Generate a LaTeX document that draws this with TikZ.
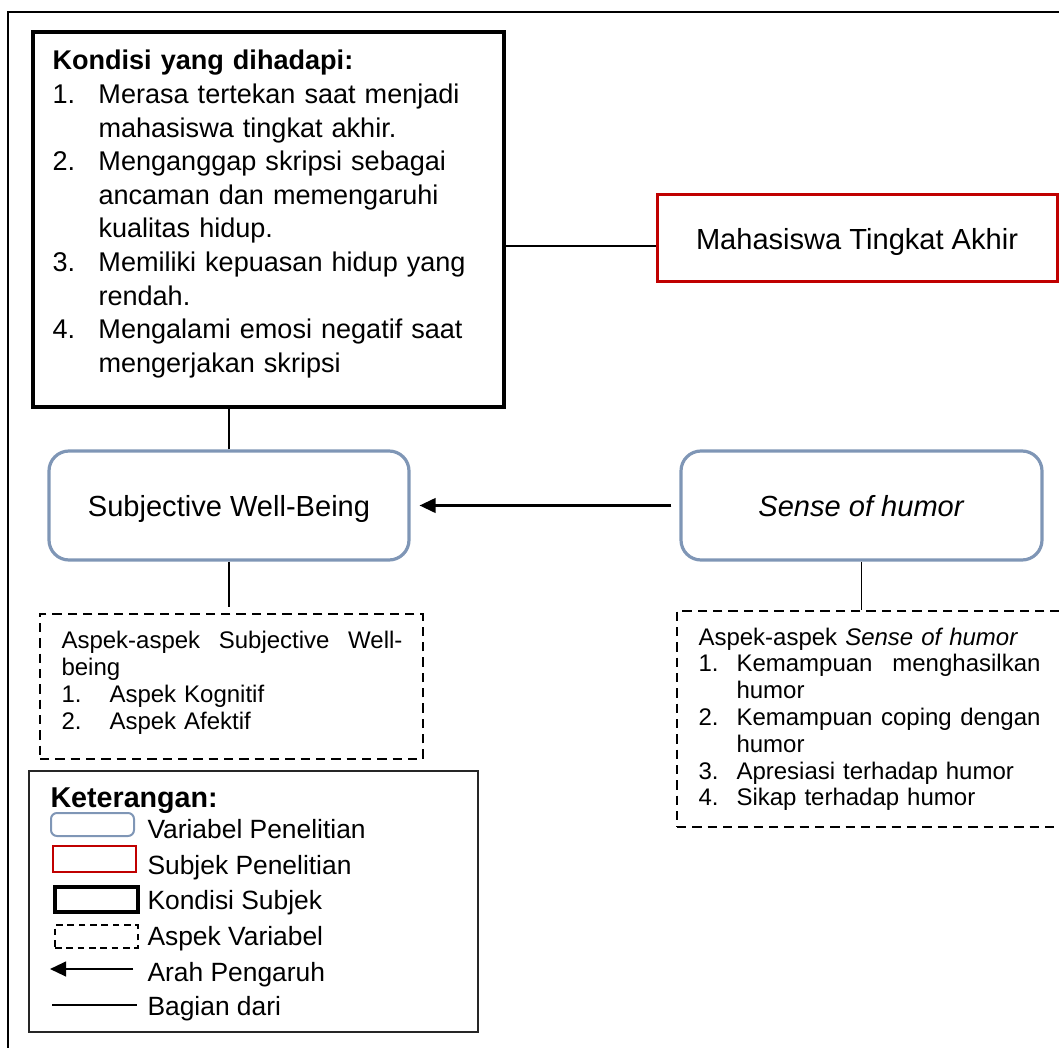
\documentclass[tikz,border=0pt]{standalone}
\usepackage{fontspec}
\setmainfont{Liberation Sans}
\usetikzlibrary{arrows.meta}

\definecolor{varblue}{RGB}{127,150,182}
\definecolor{subjred}{RGB}{192,0,0}

\tikzset{every picture/.style={line width=0.75pt}}

\begin{document}
\begin{tikzpicture}[x=0.75pt,y=0.75pt,yscale=-1,xscale=1,
  varbox/.style={draw=varblue, line width=2.4pt, rounded corners=15pt, inner sep=0pt, minimum width=270pt, minimum height=81.75pt, text depth=0pt, font=\fontsize{21.8pt}{26pt}\selectfont},
  subjbox/.style={draw=subjred, line width=2.25pt, inner sep=0pt},
  condbox/.style={draw, line width=3pt, inner sep=0pt},
  aspbox/.style={draw, line width=1.5pt, dash pattern={on 7pt off 4.5pt}, inner sep=0pt},
  link/.style={line width=1pt},
  pengaruh/.style={line width=1.6pt, -{Triangle[length=12pt,width=11pt]}},
  lgtext/.style={anchor=base west, inner sep=0pt, font=\fontsize{19.8pt}{24pt}\selectfont},
  ]
\clip (0,0) rectangle (1059,1048);

%Shape: Outer frame
\draw [line width=1.5pt] (8,12) rectangle (1090,1070);

%Shape: Rectangle (kondisi)
\node (cond) [condbox, minimum width=353.25pt, minimum height=281.25pt] at (268.5,219.5) {};
%Shape: Rectangle (subjek)
\node (mta) [subjbox, minimum width=300pt, minimum height=65.25pt, text depth=0pt, font=\fontsize{21.8pt}{26pt}\selectfont] at (857,238.5) {Mahasiswa Tingkat Akhir};
%Shape: Rounded Rect (variabel)
\node (swb) [varbox] at (229,505.5) {Subjective Well-Being};
\node (soh) [varbox, minimum width=270.75pt] at (861.5,505.5) {\textit{Sense of humor}};
%Shape: Dashed Rect (aspek)
\node (aspswb) [aspbox, minimum width=287.25pt, minimum height=108.75pt] at (231.5,686.5) {};
\node (asphum) [aspbox, minimum width=309.75pt, minimum height=162pt] at (883.5,719) {};
%Shape: Rectangle (keterangan)
\node (ket) [draw=black!85, line width=0.9pt, inner sep=0pt, minimum width=336.75pt, minimum height=195.75pt] at (253.5,901.5) {};

%Straight Lines
\draw [link] ([yshift=5.6pt]mta.west) -- ([yshift=5.6pt]mta.west -| cond.east);
\draw [link] (swb.north) -- (swb.north |- cond.south);
\draw [pengaruh, shorten <=6pt, shorten >=6.75pt] (soh.west) -- (swb.east);
\draw [link] (swb.south) -- ([yshift=-4.5pt]swb.south |- aspswb.north);
\draw [link] (soh.south) -- (soh.south |- asphum.north);

% Text Node
\node (condtxt) [anchor=base west, inner sep=0pt, text width=345pt, align=left, font=\fontsize{20.3pt}{25.2pt}\selectfont] at (52,70) {%
\textbf{Kondisi yang dihadapi:}\\
\makebox[34.5pt][l]{1.}Merasa tertekan saat menjadi\\
\hspace*{34.5pt}mahasiswa tingkat akhir.\\
\makebox[34.5pt][l]{2.}Menganggap skripsi sebagai\\
\hspace*{34.5pt}ancaman dan memengaruhi\\
\hspace*{34.5pt}kualitas hidup.\\
\makebox[34.5pt][l]{3.}Memiliki kepuasan hidup yang\\
\hspace*{34.5pt}rendah.\\
\makebox[34.5pt][l]{4.}Mengalami emosi negatif saat\\
\hspace*{34.5pt}mengerjakan skripsi};
% Text Node
\node (aspswbtxt) [anchor=base west, inner sep=0pt, text width=270pt, align=left, font=\fontsize{18pt}{20.25pt}\selectfont] at (61,648) {%
\hbox to 255.75pt{Aspek-aspek\hfill Subjective\hfill Well-}\\
being\\
\makebox[36pt][l]{1.}Aspek Kognitif\\
\makebox[36pt][l]{2.}Aspek Afektif};
% Text Node
\node (asphumtxt) [anchor=base west, inner sep=0pt, text width=270pt, align=left, font=\fontsize{18pt}{20.1pt}\selectfont] at (698,645) {%
Aspek-aspek \textit{Sense of humor}\\
\makebox[28.5pt][l]{1.}\hbox to 228pt{Kemampuan\hfill menghasilkan}\\
\hspace*{28.5pt}humor\\
\makebox[28.5pt][l]{2.}\hbox to 228pt{Kemampuan\hfill coping\hfill dengan}\\
\hspace*{28.5pt}humor\\
\makebox[28.5pt][l]{3.}Apresiasi terhadap humor\\
\makebox[28.5pt][l]{4.}Sikap terhadap humor};

% Legend
\node (kettitle) [anchor=base west, inner sep=0pt, font=\fontsize{21.5pt}{26pt}\selectfont\bfseries] at (50,807) {Keterangan:};
\node (lgvar) [draw=varblue, line width=1.5pt, rounded corners=4.5pt, inner sep=0pt, minimum width=62.25pt, minimum height=17.25pt] at (92.5,824.5) {};
\node (lgsub) [draw=subjred, line width=1.5pt, inner sep=0pt, minimum width=62.25pt, minimum height=19.5pt] at (94.5,859) {};
\node (lgcond) [condbox, minimum width=62.25pt, minimum height=18.75pt] at (96.5,899.5) {};
\node (lgasp) [aspbox, line width=1.2pt, dash pattern={on 5pt off 3.5pt}, minimum width=62.25pt, minimum height=17.25pt] at (96.5,936.5) {};
\coordinate (lgarrA) at (133,969);
\coordinate (lgarrB) at (50,969);
\draw [pengaruh] (lgarrA) -- (lgarrB);
\coordinate (lglinA) at (52,1005);
\coordinate (lglinB) at (137,1005);
\draw [link] (lglinA) -- (lglinB);

\node (lgvartxt) [lgtext] at (147,838) {Variabel Penelitian};
\node (lgsubtxt) [lgtext] at (147,874) {Subjek Penelitian};
\node (lgcondtxt) [lgtext] at (147,909) {Kondisi Subjek};
\node (lgasptxt) [lgtext] at (147,945) {Aspek Variabel};
\node (lgarrtxt) [lgtext] at (147,981) {Arah Pengaruh};
\node (lglintxt) [lgtext] at (147,1015) {Bagian dari};

\end{tikzpicture}
\end{document}
